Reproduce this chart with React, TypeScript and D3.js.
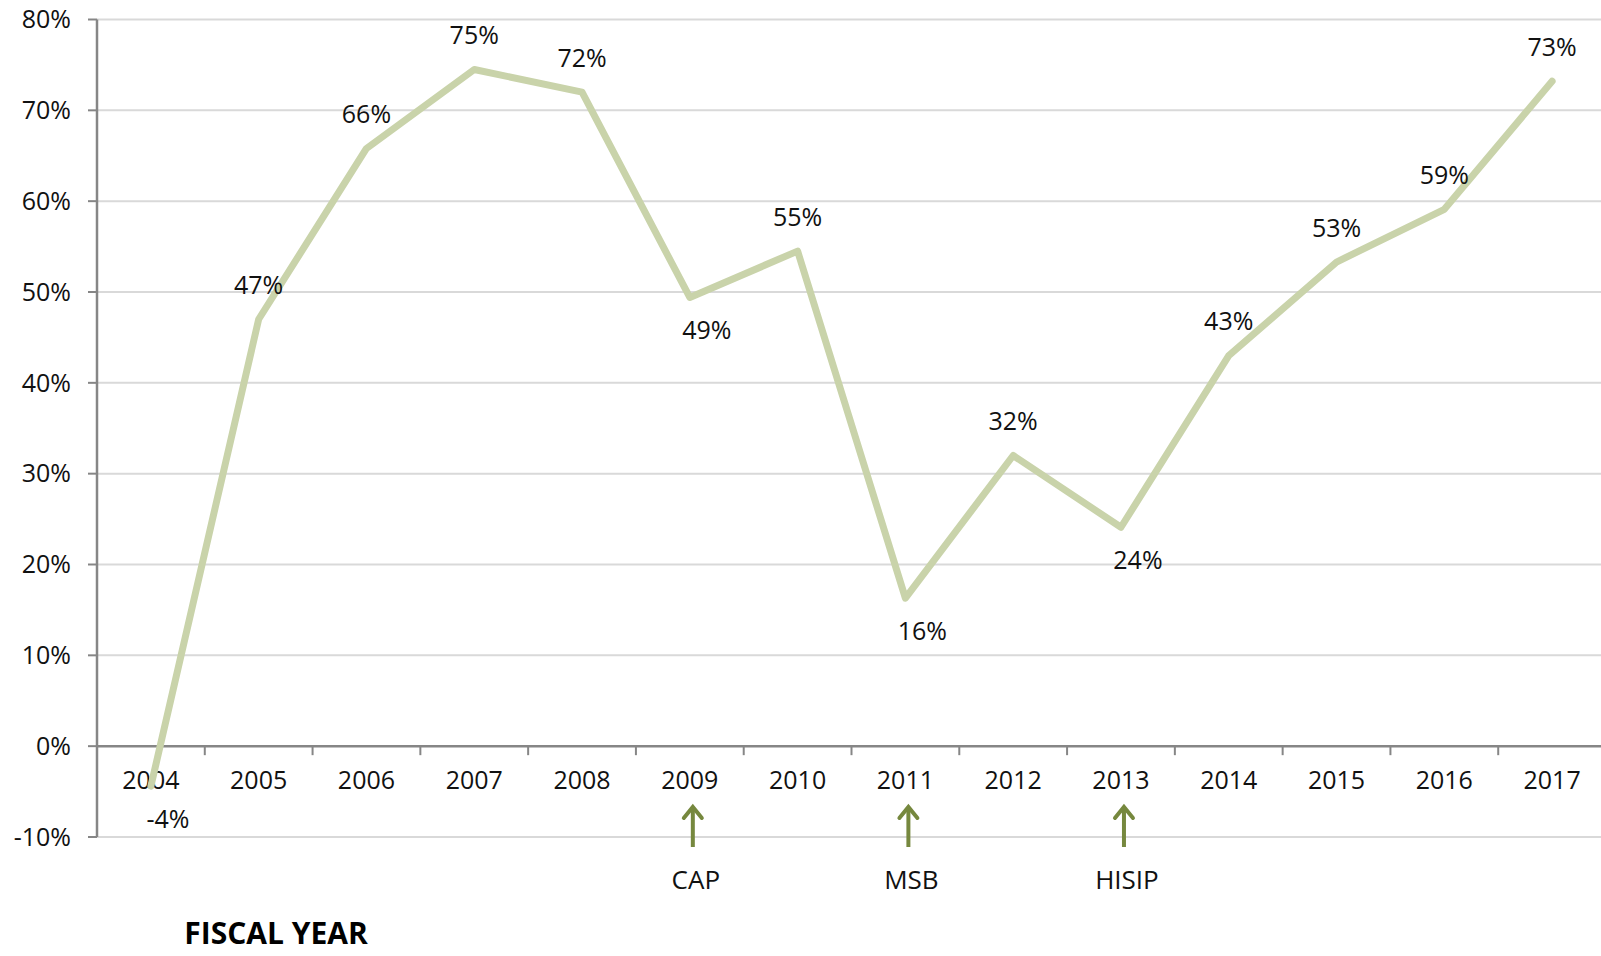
import React from "react";
import * as d3 from "d3";

const years = ["2004","2005","2006","2007","2008","2009","2010","2011","2012","2013","2014","2015","2016","2017"];
const values = [-4.4, 47, 65.8, 74.5, 72, 49.4, 54.5, 16.3, 32, 24.1, 43, 53.3, 59.1, 73.2];
const valueLabels = ["-4%","47%","66%","75%","72%","49%","55%","16%","32%","24%","43%","53%","59%","73%"];
const labelPlacement = ["below","above","above","above","above","below","above","below","above","below","above","above","above","above"];
const yTicks = [-10, 0, 10, 20, 30, 40, 50, 60, 70, 80];
const annotationYears = ["2009", "2011", "2013"];
const annotationLabels = ["CAP", "MSB", "HISIP"];

const W = 1601, H = 956;
const left = 97, right = 1606, top = 19.5, bottom = 837;
const FONT = "'Open Sans', 'DejaVu Sans', sans-serif";

export default function App() {
  const x = d3.scaleBand<string>().domain(years).range([left, right]).paddingInner(0).paddingOuter(0);
  const y = d3.scaleLinear().domain([-10, 80]).range([bottom, top]);
  const cx = (yr: string) => (x(yr) as number) + x.bandwidth() / 2;
  const line = d3.line<number>().x((_, i) => cx(years[i])).y(d => y(d));
  const y0 = y(0);
  const axisColor = "#868686";
  const gridColor = "#d9d9d9";
  const arrowColor = "#76883e";

  return (
    <svg width={W} height={H} style={{ position: "absolute", left: 0, top: 0 }}>
      <rect width={W} height={H} fill="#fff" />
      {yTicks.filter(t => t !== 0).map(t => (
        <line key={"g" + t} x1={left} x2={W} y1={y(t)} y2={y(t)} stroke={gridColor} strokeWidth={2} />
      ))}
      {yTicks.map(t => (
        <g key={"yt" + t}>
          <line x1={left - 9} x2={left} y1={y(t)} y2={y(t)} stroke={axisColor} strokeWidth={2} />
          <text x={71} y={y(t)} dy="0.35em" textAnchor="end" fontFamily={FONT} fontSize={25} fill="#111">{t}%</text>
        </g>
      ))}
      <line x1={left} x2={left} y1={top} y2={bottom} stroke={axisColor} strokeWidth={2.5} />
      <line x1={left} x2={W} y1={y0} y2={y0} stroke={axisColor} strokeWidth={2.5} />
      {years.slice(1).map(yr => (
        <line key={"xt" + yr} x1={x(yr) as number} x2={x(yr) as number} y1={y0} y2={y0 + 9} stroke={axisColor} strokeWidth={2} />
      ))}
      {years.map(yr => (
        <text key={"xl" + yr} x={cx(yr)} y={780} dy="0.35em" textAnchor="middle" fontFamily={FONT} fontSize={25} fill="#111">{yr}</text>
      ))}
      <path d={line(values) || ""} fill="none" stroke="#c9d3aa" strokeWidth={7} strokeLinejoin="round" strokeLinecap="round" />
      {values.map((v, i) => {
        const above = labelPlacement[i] === "above";
        const px = cx(years[i]) + (above ? 0 : 17);
        const py = y(v) + (above ? -34 : 33);
        return (
          <text key={"vl" + i} x={px} y={py} dy="0.35em" textAnchor="middle" fontFamily={FONT} fontSize={25} fill="#111">{valueLabels[i]}</text>
        );
      })}
      {annotationYears.map((yr, i) => {
        const ax = cx(yr) + 3;
        return (
          <g key={"an" + yr}>
            <line x1={ax} x2={ax} y1={808} y2={847} stroke={arrowColor} strokeWidth={4} />
            <polyline points={`${ax - 9},${818} ${ax},${807} ${ax + 9},${818}`} fill="none" stroke={arrowColor} strokeWidth={4} strokeLinecap="round" strokeLinejoin="miter" />
            <text x={ax + 3} y={880} dy="0.35em" textAnchor="middle" fontFamily={FONT} fontSize={26} fill="#111">{annotationLabels[i]}</text>
          </g>
        );
      })}
      <text x={276} y={944} textAnchor="middle" fontFamily={FONT} fontSize={30} fontWeight={700} fill="#000">FISCAL YEAR</text>
    </svg>
  );
}
